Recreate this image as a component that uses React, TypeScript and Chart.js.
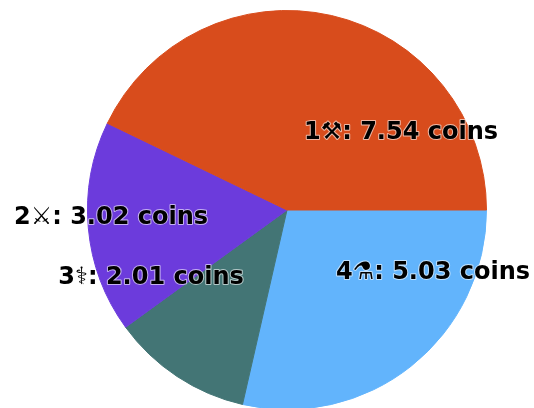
import { useEffect, useRef } from "react";
import { Chart, registerables } from "chart.js";

Chart.register(...registerables);

const categories = ["1⚒", "2⚔", "3⚕", "4⚗"];
const values = [7.54, 3.02, 2.01, 5.03];
const colors = ["#d84c1c", "#6c3bdc", "#437575", "#62b4fc"];
const labelAnchors = [
  { x: 401, y: 133 },
  { x: 111, y: 218 },
  { x: 151, y: 278 },
  { x: 433, y: 273 },
];

const labelPlugin = {
  id: "sliceLabels",
  afterDatasetsDraw(chart: any) {
    const { ctx } = chart;
    ctx.save();
    ctx.font = 'bold 24px "DejaVu Sans"';
    ctx.textAlign = "center";
    ctx.textBaseline = "middle";
    ctx.lineJoin = "round";
    categories.forEach((c, i) => {
      const text = `${c}: ${values[i].toFixed(2)} coins`;
      const p = labelAnchors[i];
      ctx.lineWidth = 2;
      ctx.strokeStyle = "rgba(255,255,255,0.6)";
      ctx.strokeText(text, p.x, p.y);
      ctx.fillStyle = "#000000";
      ctx.fillText(text, p.x, p.y);
    });
    ctx.restore();
  },
};

export default function App() {
  const ref = useRef<HTMLCanvasElement>(null);
  useEffect(() => {
    // Chart.js sweeps clockwise; the reference runs counter-clockwise from 3 o'clock.
    const reversedColors = [...colors].reverse();
    const chart = new Chart(ref.current!, {
      type: "pie",
      data: {
        labels: [...categories].reverse(),
        datasets: [
          {
            data: [...values].reverse(),
            backgroundColor: reversedColors,
            borderColor: reversedColors,
            borderWidth: 1,
          },
        ],
      },
      options: {
        animation: false,
        responsive: false,
        rotation: 90,
        layout: { padding: { left: 87, right: 47, top: 10, bottom: 0 } },
        plugins: { legend: { display: false }, tooltip: { enabled: false } },
      },
      plugins: [labelPlugin],
    });
    return () => chart.destroy();
  }, []);
  return (
    <div
      style={{
        position: "absolute",
        left: 0,
        top: 0,
        width: 534,
        height: 408,
        overflow: "hidden",
      }}
    >
      <canvas ref={ref} width={534} height={410} style={{ display: "block" }} />
    </div>
  );
}
